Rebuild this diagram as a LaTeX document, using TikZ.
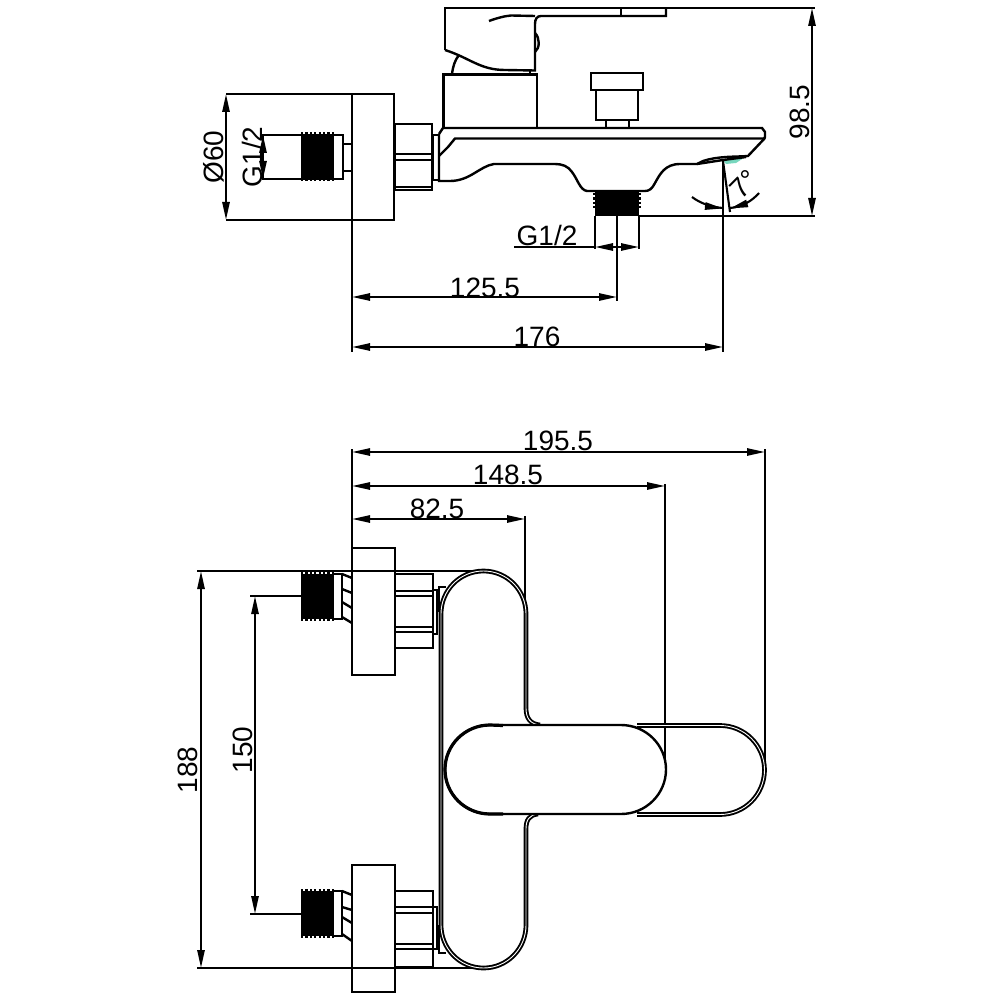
\documentclass[tikz,border=0pt]{standalone}
\usepackage{fontspec}
\setmainfont{Liberation Sans}
\usetikzlibrary{arrows.meta}
\definecolor{wedge}{RGB}{120,215,190}
\tikzset{
  part/.style={line width=1.2pt,line join=miter,black},
  dimline/.style={line width=1.05pt,black},
  dimarrow/.style={dimline,{Triangle[length=9pt,width=3.6pt]}-{Triangle[length=9pt,width=3.6pt]}},
  onearrow/.style={dimline,-{Triangle[length=9pt,width=3.6pt]}},
  dimtext/.style={font=\fontsize{14}{14}\selectfont,inner sep=0pt,text=black},
  body/.style={line width=0.95pt,double=white,double distance=0.45pt,black},
  threadfill/.style={fill=black,draw=none},
  teeth/.style={line width=1.5pt,dash pattern=on 1.1pt off 1.1pt,black},
}
\begin{document}
\begin{tikzpicture}[x=0.5pt,y=-0.5pt]
\useasboundingbox (0,0) rectangle (1000,1000);
% ---------- top view: wall flange and inlet
\draw[part] (352,94) rectangle (394,220);
\draw[part] (263,135) rectangle (343,179);
\fill[threadfill] (301,135) rectangle (334,179);
\draw[teeth] (301,134) -- (334,134);
\draw[teeth] (301,180) -- (334,180);
\draw[part] (343,144) -- (352,144) (343,171) -- (352,171);
\draw[part] (395,124) rectangle (432,190);
\draw[part] (395,154) -- (432,154) (395,160) -- (432,160) (395,187) -- (432,187);
\draw[part] (433,135) rectangle (439,180);
% ---------- top view: lever
\draw[part] (445,50) -- (445,8) -- (815,8);
\draw[part] (445,50) .. controls (470,58) and (480,70) .. (505,70) -- (535,70.5) -- (535,24)
  .. controls (535,19) and (537,16) .. (541,16) -- (666,16) -- (666,8);
\draw[part] (621,8) -- (621,16);
\draw[part] (489,21) .. controls (497,18) and (505,16) .. (511,15.5);
\draw[part] (535,16) -- (511,15.5);
\draw[part] (452,74) .. controls (453,66) and (455,60) .. (459,55);
\draw[part] (535,33) .. controls (540,38) and (540,48) .. (535,52);
\draw[part] (443.5,127) -- (443.5,74.5) -- (537,74.5) -- (537,127);
\draw[part] (530,71) -- (530,74);
% ---------- top view: diverter knob
\draw[part] (591,73) rectangle (643,90);
\draw[part] (596,90) rectangle (638,120);
\draw[part] (606,120) -- (606,128) (629,120) -- (629,128);
% ---------- top view: spout
\fill[wedge] (723,160) -- (746,156.5) -- (736,163) -- (726,164) -- cycle;
\draw[part] (439,134) -- (443,128) -- (762,128) -- (765,132) -- (765,137) -- (764,138.5) -- (455,138.5) -- (448,147) -- (439,156);
\draw[part] (765,138) -- (748,156)
  .. controls (735,157) and (718,156) .. (703,161)
  -- (697,164) -- (680,164) .. controls (665,164) and (660,174) .. (655,183) .. controls (652,189) and (649,191) .. (645,191)
  -- (587,191) .. controls (580,190) and (578,180) .. (572,172) .. controls (568,166) and (562,164) .. (555,164)
  -- (494,164) .. controls (480,166) and (470,181) .. (450,181) -- (439,181) -- (439,134);
\draw[part] (697,164) -- (723,160) -- (746,157);
% ---------- top view: outlet thread
\fill[threadfill] (595,192) rectangle (639,216);
\draw[teeth,line width=1.4pt] (594,193) -- (594,210);
\draw[teeth,line width=1.4pt] (640,193) -- (640,210);
% ---------- top view: dimensions
\draw[dimline] (226,94) -- (352,94) (226,220) -- (352,220);
\draw[dimarrow] (226,94) -- (226,220);
\node[dimtext,rotate=90] (d60) at (214,157) {Ø60};
\draw[onearrow] (263,157) -- (263,135);
\draw[onearrow] (263,157) -- (263,179);
\node[dimtext,rotate=90] (g12a) at (252,157) {G1/2};
\draw[dimline] (352,220) -- (352,352);
\draw[dimline] (639,216) -- (815,216);
\draw[dimarrow] (812,8) -- (812,216);
\node[dimtext,rotate=90] (d985) at (800,112) {98.5};
\draw[dimline] (723,160) -- (723,352);
\draw[dimline] (723,161) -- (730,212);
\draw[dimline] (692,197) .. controls (700,203) and (710,207) .. (723,208);
\draw[dimline] (730,208) .. controls (742,207) and (752,201) .. (759,193);
\draw[onearrow] (705,206) -- (723,208.5);
\draw[onearrow] (747,203.5) -- (730,208.5);
\node[dimtext,rotate=45] (d7) at (744,184) {7°};
\draw[dimline] (595,216) -- (595,249) (639,216) -- (639,249);
\draw[dimline] (514,247) -- (595,247);
\draw[onearrow] (617,247) -- (595,247);
\draw[onearrow] (617,247) -- (639,247);
\node[dimtext] (g12b) at (547,235) {G1/2};
\draw[dimline] (617,216) -- (617,301);
\draw[dimarrow] (352,297) -- (617,297);
\node[dimtext] (d1255) at (485,288) {125.5};
\draw[dimarrow] (352,347) -- (723,347);
\node[dimtext] (d176) at (537,337) {176};
% ---------- bottom view: dimension lines behind
\draw[dimline] (352,449) -- (352,548);
\draw[dimline] (765,449) -- (765,770);
\draw[dimline] (665,484) -- (665,760);
\draw[dimline] (525,516) -- (525,612);
\draw[dimarrow] (352,452) -- (765,452);
\draw[dimarrow] (352,486) -- (665,486);
\draw[dimarrow] (352,519) -- (525,519);
\node[dimtext] (d1955) at (558,441) {195.5};
\node[dimtext] (d1485) at (508,475) {148.5};
\node[dimtext] (d825) at (437,509) {82.5};
\draw[dimline] (197,571) -- (485,571);
\draw[dimline] (197,968) -- (485,968);
\draw[dimarrow] (201,571) -- (201,968);
\node[dimtext,rotate=90] (d188) at (188,770) {188};
\draw[dimline] (250,596) -- (301,596);
\draw[dimline] (250,914) -- (301,914);
\draw[dimarrow] (255,596) -- (255,914);
\node[dimtext,rotate=90] (d150) at (243,750) {150};
% ---------- bottom view: upper inlet
\draw[part] (352,548) rectangle (395,675);
\fill[threadfill] (301,574) rectangle (334,619);
\draw[teeth] (301,573.5) -- (334,573.5);
\draw[teeth] (301,619.5) -- (334,619.5);
\draw[part] (334,574) -- (342,574) -- (342,619) -- (334,619);
\draw[part] (342,574) -- (352,578) (342,589) -- (352,593) (342,602) -- (352,608) (342,617) -- (352,623);
\draw[part] (395,574) rectangle (433,648);
\draw[part] (395,591) -- (433,591) (395,596) -- (433,596) (395,627) -- (433,627) (395,632) -- (433,632);
\draw[part] (433,590) -- (437,590) -- (437,634) -- (433,634);
\draw[part] (439,612) -- (439,587) -- (446,587);
% ---------- bottom view: lower inlet
\draw[part] (352,865) rectangle (395,992);
\fill[threadfill] (301,891) rectangle (334,936);
\draw[teeth] (301,890.5) -- (334,890.5);
\draw[teeth] (301,936.5) -- (334,936.5);
\draw[part] (334,891) -- (342,891) -- (342,936) -- (334,936);
\draw[part] (342,891) -- (352,895) (342,907) -- (352,910) (342,917) -- (352,923) (342,934) -- (352,941);
\draw[part] (395,891) rectangle (433,967);
\draw[part] (395,907) -- (433,907) (395,913) -- (433,913) (395,944) -- (433,944) (395,949) -- (433,949);
\draw[part] (433,907) -- (437,907) -- (437,949) -- (433,949);
\draw[part] (439,925) -- (439,953) -- (446,953);
% ---------- bottom view: body
\draw[body]
  (526,708) -- (526,614) .. controls (526,590.25) and (507.25,571) .. (483.5,571)
  .. controls (459.75,571) and (441,590.25) .. (441,614)
  -- (441,925) .. controls (441,948.75) and (459.75,968) .. (483.5,968)
  .. controls (507.25,968) and (526,948.75) .. (526,925)
  -- (526,829) .. controls (526,820) and (529,815) .. (538,814);
\draw[body] (526,708) .. controls (526,718) and (530,724) .. (540,725);
\draw[body] (637,725.5) -- (720,725.5) .. controls (744.6,725.5) and (764.5,745.4) .. (764.5,770)
  .. controls (764.5,794.6) and (744.6,814.5) .. (720,814.5) -- (637,814.5);
% ---------- bottom view: lever
\draw[part,fill=white] (490,725) -- (621,725) .. controls (645.9,725) and (666,745) .. (666,769.5)
  .. controls (666,794) and (645.9,814) .. (621,814)
  -- (490,814) .. controls (465,814) and (445,794) .. (445,769.5)
  .. controls (445,745) and (465,725) .. (490,725) -- cycle;
\draw[part,line width=1.6pt] (503,725.5) -- (490,725) .. controls (465,725) and (445,745) .. (445,769.5)
  .. controls (445,794) and (465,814) .. (490,814) -- (503,814);
\end{tikzpicture}
\end{document}
